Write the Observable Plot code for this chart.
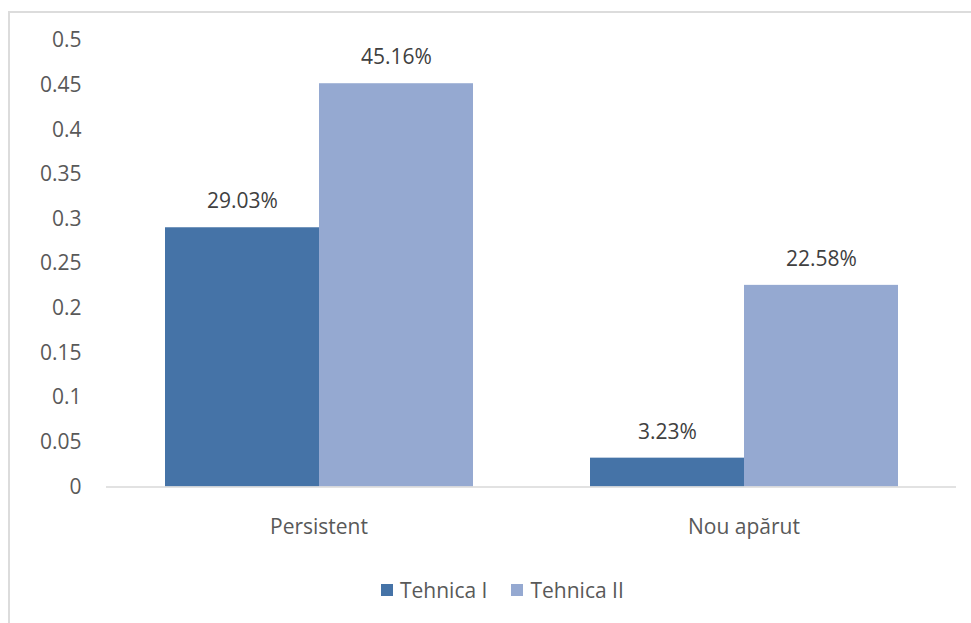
<!DOCTYPE html>
<html>
<head>
<meta charset="utf-8">
<script src="https://cdn.jsdelivr.net/npm/d3@7"></script>
<script src="https://cdn.jsdelivr.net/npm/@observablehq/plot@0.6"></script>
<style>
  html, body { margin: 0; padding: 0; background: #fff; }
  #wrap { position: relative; width: 971px; height: 623px; overflow: hidden; font-family: "Open Sans", sans-serif; }
  #frame { position: absolute; left: 8px; top: 11px; width: 1000px; height: 700px; border: 2px solid #dcdcdc; box-sizing: border-box; pointer-events: none; }
  #chart { position: absolute; left: 0; top: 0; }
  #legend { position: absolute; top: 576px; left: 381px; display: flex; align-items: center; font-size: 21px; color: #595959; }
  .sw { display: inline-block; width: 12px; height: 12px; margin-right: 7px; }
  .item { display: flex; align-items: center; margin-right: 24px; }
</style>
</head>
<body>
<div id="wrap">
  <div id="frame"></div>
  <div id="chart"></div>
  <div id="legend"></div>
</div>
<script>
// Share of cases per category, for each technique
const categories = ["Persistent", "Nou apărut"];
const series = ["Tehnica I", "Tehnica II"];
const tehnicaI = [0.2903, 0.0323];
const tehnicaII = [0.4516, 0.2258];
const colors = ["#4573a7", "#95a9d1"];
const yTicks = [0, 0.05, 0.1, 0.15, 0.2, 0.25, 0.3, 0.35, 0.4, 0.45, 0.5];

const rows = categories.flatMap((c, i) => [
  {category: c, series: series[0], value: tehnicaI[i]},
  {category: c, series: series[1], value: tehnicaII[i]}
]);

const chart = Plot.plot({
  width: 971,
  height: 623,
  marginLeft: 105,
  marginRight: 15,
  marginTop: 40,
  marginBottom: 136.5,
  style: {fontFamily: "Open Sans, sans-serif", fontSize: "21px", color: "#595959", background: "transparent"},
  fx: {domain: categories, paddingInner: 0, paddingOuter: 0, label: null, axis: "bottom", tickSize: 0, tickPadding: 32},
  x: {domain: series, paddingInner: 0, paddingOuter: 0.3726, axis: null},
  y: {domain: [0, 0.5], ticks: yTicks, tickSize: 0, tickPadding: 25, label: null,
      tickFormat: d => String(+d.toFixed(2))},
  color: {domain: series, range: colors},
  marks: [
    Plot.barY(rows, {fx: "category", x: "series", y: "value", fill: "series", inset: 0}),
    Plot.ruleY([0], {stroke: "#d9d9d9", strokeWidth: 1.5}),
    Plot.text(rows, {fx: "category", x: "series", y: "value",
      text: d => (d.value * 100).toFixed(2) + "%", dy: -26,
      fill: "#404040", fontSize: 21})
  ]
});
document.getElementById("chart").appendChild(chart);

// Legend below the plot
const legend = document.getElementById("legend");
series.forEach((s, i) => {
  const item = document.createElement("span");
  item.className = "item";
  const sw = document.createElement("span");
  sw.className = "sw";
  sw.style.background = colors[i];
  item.appendChild(sw);
  item.appendChild(document.createTextNode(s));
  legend.appendChild(item);
});
</script>
</body>
</html>
